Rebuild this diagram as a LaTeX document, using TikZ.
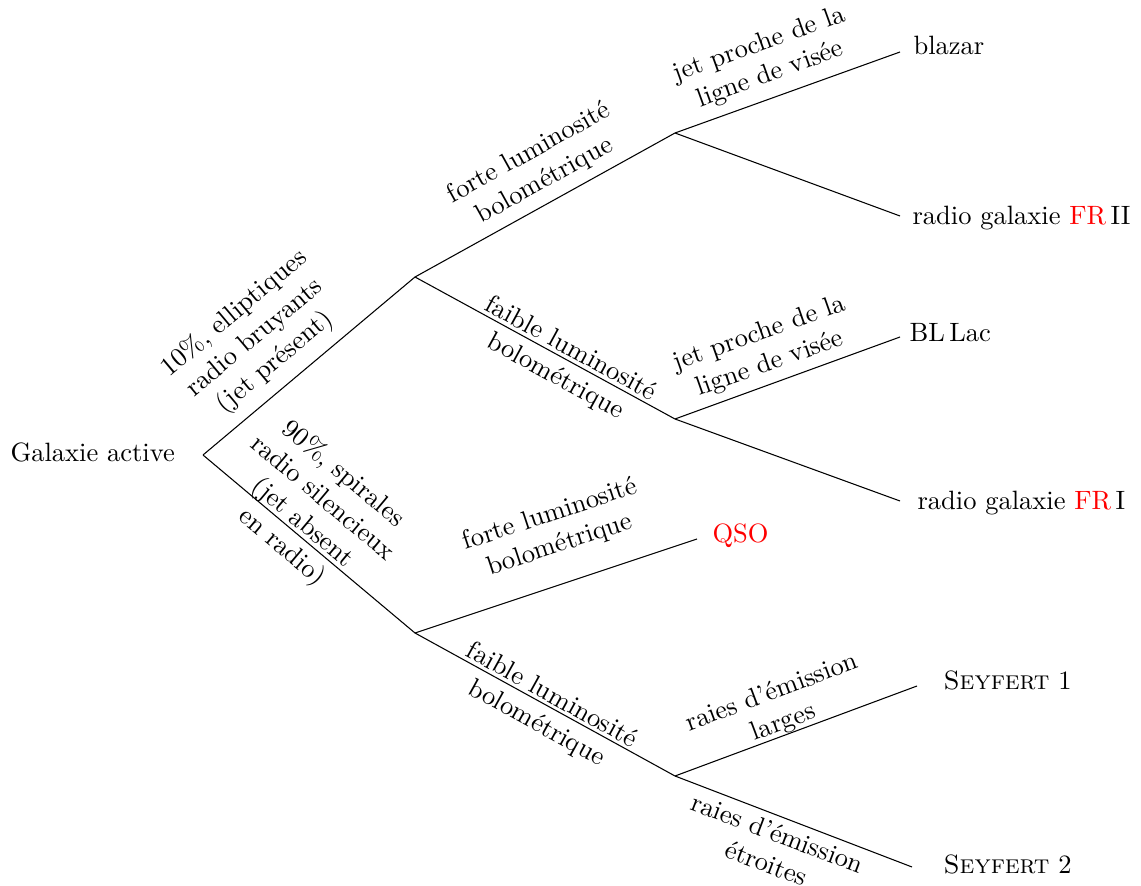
\documentclass[tikz,border=0pt]{standalone}
\usepackage{fontspec}
\begin{document}
\begin{tikzpicture}[x=0.3774pt,y=-0.3774pt,
  lbl/.style={align=center, inner sep=0pt},
  leaf/.style={anchor=base west, inner sep=0pt},
  branch/.style={line width=0.4pt}]
\useasboundingbox (0,0) rectangle (1141,886);
% branch points
\coordinate (R) at (203,455);
\coordinate (N1) at (415,277);
\coordinate (N2) at (415,633);
\coordinate (N11) at (675,133);
\coordinate (N12) at (675,419);
\coordinate (N22) at (675,776);
% connector ends near leaves
\coordinate (eBlazar) at (900,52);
\coordinate (eFRII) at (900,216);
\coordinate (eBLLac) at (900,337);
\coordinate (eFRI) at (900,501);
\coordinate (eQSO) at (697,539);
\coordinate (eSey1) at (917,686);
\coordinate (eSey2) at (912,867);
% leaves
\node[leaf] (root) at (10,462) {Galaxie active};
\node[leaf] (blazar) at (913,55) {blazar};
\node[leaf] (frii) at (912,225) {radio galaxie \textcolor{red}{FR}\,II};
\node[leaf] (bllac) at (909,342) {BL\,Lac};
\node[leaf] (fri) at (917,510) {radio galaxie \textcolor{red}{FR}\,I};
\node[leaf, text=red] (qso) at (712,543) {QSO};
\node[leaf] (sey1) at (943,690) {\textsc{Seyfert} 1};
\node[leaf] (sey2) at (943,873) {\textsc{Seyfert} 2};
% connectors
\draw[branch] (R) -- (N1);
\draw[branch] (R) -- (N2);
\draw[branch] (N1) -- (N11);
\draw[branch] (N1) -- (N12);
\draw[branch] (N2) -- (eQSO);
\draw[branch] (N2) -- (N22);
\draw[branch] (N11) -- (eBlazar);
\draw[branch] (N11) -- (eFRII);
\draw[branch] (N12) -- (eBLLac);
\draw[branch] (N12) -- (eFRI);
\draw[branch] (N22) -- (eSey1);
\draw[branch] (N22) -- (eSey2);
% edge labels
\node[lbl, rotate=40] (lA) at (255,338) {10\%, elliptiques\\radio bruyants\\(jet présent)};
\node[lbl, rotate=-40] (lB) at (312,511) {90\%, spirales\\radio silencieux\\(jet absent\\en radio)};
\node[lbl, rotate=29] (lC) at (537,167) {forte luminosité\\bolométrique};
\node[lbl, rotate=-28.6] (lD) at (563,363) {faible luminosité\\bolométrique};
\node[lbl, rotate=19.8] (lE) at (765,60) {jet proche de la\\ligne de visée};
\node[lbl, rotate=19.4] (lF) at (765,349) {jet proche de la\\ligne de visée};
\node[lbl, rotate=18.3] (lG) at (555,530) {forte luminosité\\bolométrique};
\node[lbl, rotate=-29] (lH) at (544,710) {faible luminosité\\bolométrique};
\node[lbl, rotate=20.6] (lI) at (778,708) {raies d'émission\\larges};
\node[lbl, rotate=-20.8] (lJ) at (772,848) {raies d'émission\\étroites};
\end{tikzpicture}
\end{document}
